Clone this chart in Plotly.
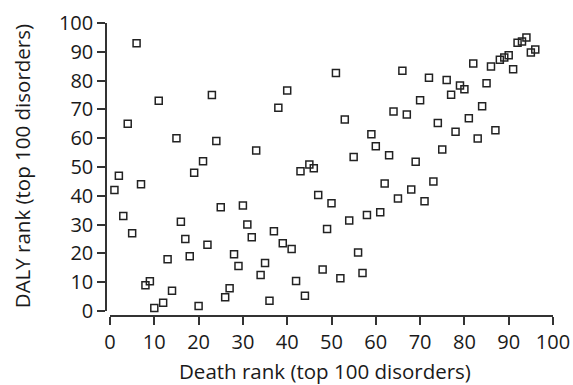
import plotly.graph_objects as go

death_rank = list(range(1, 97))
daly_rank = [
    42, 47, 33, 65, 27, 93, 44, 8.9, 10.3, 1,
    73, 2.9, 18, 7, 60, 31, 25, 19, 48, 1.7,
    52, 23, 75, 59, 36, 4.8, 7.9, 19.7, 15.6, 36.6,
    30, 25.6, 55.7, 12.5, 16.7, 3.6, 27.7, 70.6, 23.5, 76.6,
    21.5, 10.4, 48.5, 5.3, 50.9, 49.6, 40.3, 14.4, 28.5, 37.4,
    82.6, 11.4, 66.5, 31.4, 53.5, 20.3, 13.2, 33.3, 61.4, 57.2,
    34.3, 44.3, 54.1, 69.3, 39.1, 83.4, 68.2, 42.2, 51.8, 73.2,
    38.1, 81, 45, 65.3, 56.1, 80.2, 75.1, 62.2, 78.3, 77,
    66.9, 85.9, 59.9, 71.1, 79.1, 84.9, 62.8, 87.2, 88, 88.8,
    83.9, 93.1, 93.6, 95, 89.8, 90.8,
]
tick_vals = list(range(0, 101, 10))
x_title = "Death rank (top 100 disorders)"
y_title = "DALY rank (top 100 disorders)"

W, H = 573, 385
ml, mr, mt, mb = 106, 20.3, 22.7, 69.3
pw = W - ml - mr
ph = H - mt - mb

font_family = "Open Sans"
text_color = "#1a1a1a"
axis_color = "#333333"

fig = go.Figure()
fig.add_trace(go.Scatter(
    x=death_rank, y=daly_rank, mode="markers",
    marker=dict(symbol="square-open", size=7, color="#222222",
                line=dict(width=1.5, color="#222222")),
    cliponaxis=False, showlegend=False, hoverinfo="skip",
))

axis_common = dict(
    showgrid=False, zeroline=False, showline=True, linecolor=axis_color,
    linewidth=1.5, ticks="outside", ticklen=8, tickwidth=1.5, tickcolor=axis_color,
    tickvals=tick_vals, range=[0, 100], anchor="free", position=0,
    automargin=False,
    tickfont=dict(family=font_family, size=20, color=text_color),
)

fig.update_layout(
    width=W, height=H,
    margin=dict(l=ml, r=mr, t=mt, b=mb, pad=0),
    paper_bgcolor="white", plot_bgcolor="white",
    xaxis=dict(domain=[4 / pw, 1], **axis_common),
    yaxis=dict(domain=[5 / ph, 1], **axis_common),
    annotations=[
        dict(text=x_title, xref="paper", yref="paper",
             x=(325 - ml) / pw, y=(315.7 - 370.5) / ph,
             xanchor="center", yanchor="middle", showarrow=False,
             font=dict(family=font_family, size=20.5, color=text_color)),
        dict(text=y_title, xref="paper", yref="paper",
             x=(22 - ml) / pw, y=(315.7 - 166) / ph,
             xanchor="center", yanchor="middle", showarrow=False, textangle=-90,
             font=dict(family=font_family, size=20.5, color=text_color)),
    ],
)

fig.write_html(
    "out.html",
    config={"displayModeBar": False},
    post_script="document.body.style.margin='0';document.body.style.padding='0';document.body.style.overflow='hidden';",
)
